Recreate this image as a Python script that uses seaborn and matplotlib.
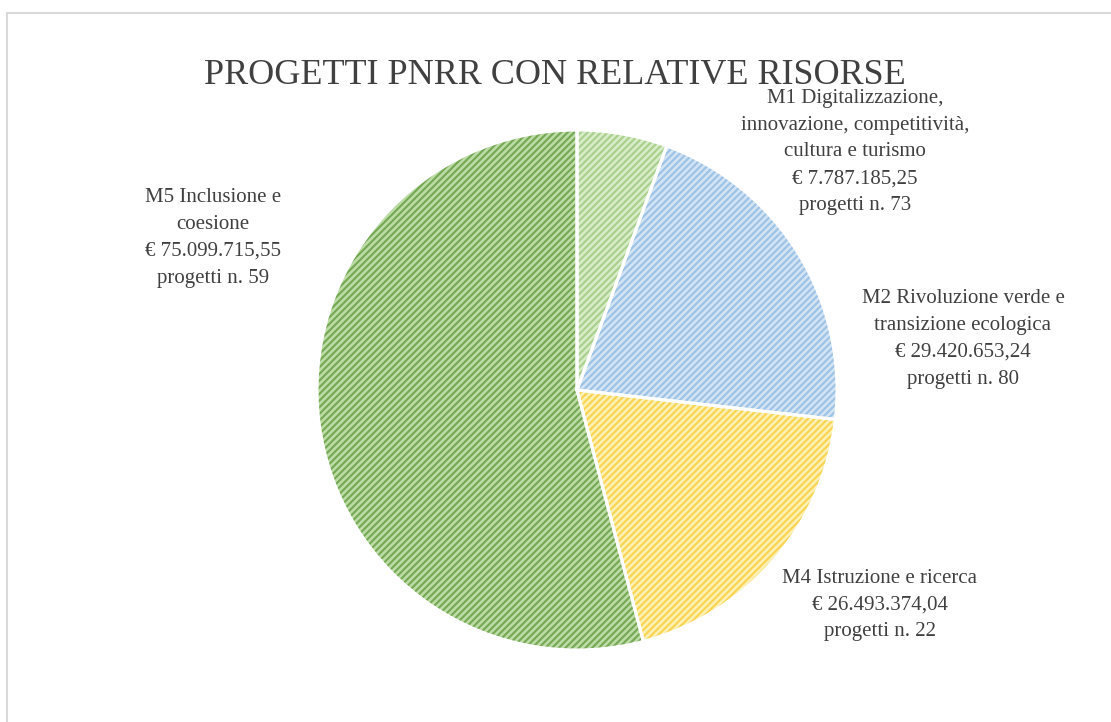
import matplotlib
matplotlib.use("Agg")
import matplotlib.pyplot as plt
from matplotlib.patches import Rectangle
import seaborn as sns

# ------------------------------
# Data
# ------------------------------
missions = ["M1 Digitalizzazione,\ninnovazione, competitività,\ncultura e turismo",
            "M2 Rivoluzione verde e\ntransizione ecologica",
            "M4 Istruzione e ricerca",
            "M5 Inclusione e\ncoesione"]
amounts = [7787185.25, 29420653.24, 26493374.04, 75099715.55]
amount_labels = ["€ 7.787.185,25", "€ 29.420.653,24", "€ 26.493.374,04", "€ 75.099.715,55"]
n_projects = [73, 80, 22, 59]

face_colors = ["#d9ecc8", "#d2e4f4", "#fdf0b4", "#bcdba5"]
stripe_colors = ["#a8d08d", "#9cc2e5", "#f9d44f", "#74a853"]

# ------------------------------
# Style
# ------------------------------
sns.set_theme(style="white")
plt.rcParams["font.family"] = ["Liberation Serif", "DejaVu Serif"]
plt.rcParams["hatch.linewidth"] = 1.5
text_color = "#404040"

fig = plt.figure(figsize=(11.11, 7.22), dpi=100)
fig.patch.set_facecolor("white")

# light frame of the chart area
fig.patches.append(Rectangle((7 / 1111, -0.1), 1.2, 1.1 - 13 / 722,
                             transform=fig.transFigure, fill=False,
                             edgecolor="#d9d9d9", linewidth=1.5))

ax = fig.add_axes([317 / 1111, 72 / 722, 520 / 1111, 520 / 722])

# hatched wedges (hatch colour follows edgecolor)
wedges, _ = ax.pie(amounts, startangle=90, counterclock=False, radius=1,
                   colors=face_colors,
                   wedgeprops=dict(linewidth=0))
for w, sc in zip(wedges, stripe_colors):
    w.set_edgecolor(sc)
    w.set_linewidth(0)
    w.set_hatch("/////")

# white separators on top
ax.pie(amounts, startangle=90, counterclock=False, radius=1,
       colors=["none"] * len(amounts),
       wedgeprops=dict(linewidth=2.2, edgecolor="white", fill=False))
ax.set_xlim(-1, 1)
ax.set_ylim(-1, 1)
ax.set_aspect("equal")
ax.axis("off")

# ------------------------------
# Labels (pixel positions of the text centres)
# ------------------------------
label_pos = [(855, 152), (963, 339), (880, 605), (213, 238)]
for name, amt, n, (px, py) in zip(missions, amount_labels, n_projects, label_pos):
    fig.text(px / 1111, 1 - py / 722, f"{name}\n{amt}\nprogetti n. {n}",
             ha="center", va="center", fontsize=15, color=text_color,
             linespacing=1.55)

fig.text(555 / 1111, 1 - 76 / 722, "PROGETTI PNRR CON RELATIVE RISORSE",
         ha="center", va="center", fontsize=26, color=text_color)

plt.savefig("out.png", dpi=100)
plt.close()
